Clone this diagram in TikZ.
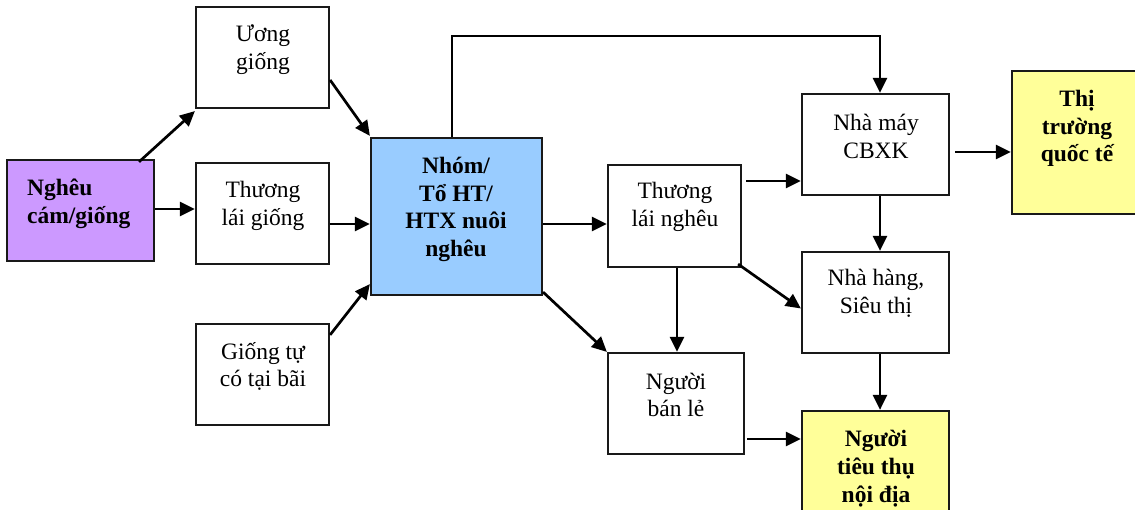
\documentclass[tikz,border=0pt]{standalone}
\usepackage{fontspec}
\setmainfont{Liberation Serif}
\usetikzlibrary{arrows.meta}
\definecolor{purp}{HTML}{CC99FF}
\definecolor{lblue}{HTML}{99CCFF}
\definecolor{lyel}{HTML}{FFFF99}
\begin{document}
\begin{tikzpicture}[x=1pt,y=-1pt,
  box/.style={draw=black!90, line width=2.2pt, inner sep=0pt, fill=white},
  txt/.style={align=center, inner sep=0pt, font=\fontsize{23.5}{27.8}\selectfont},
  btxt/.style={txt, font=\fontsize{23.5}{27.8}\selectfont\bfseries},
  arr/.style={line width=2.7pt, -{Triangle[length=15pt,width=14pt]}},
  ln/.style={line width=2.7pt}]
\useasboundingbox (0,0) rectangle (1135,510);
% boxes
\node[box, fill=purp, minimum width=147pt, minimum height=101pt] (nghe) at (80.5,210.5) {};
\node[box, minimum width=133pt, minimum height=101pt] (uong) at (262.5,57.5) {};
\node[box, minimum width=133pt, minimum height=101pt] (tlg) at (262.5,213.5) {};
\node[box, minimum width=133pt, minimum height=101pt] (gtc) at (262.5,374.5) {};
\node[box, fill=lblue, minimum width=171pt, minimum height=157pt] (nhom) at (456.5,216.5) {};
\node[box, minimum width=133pt, minimum height=102pt] (tln) at (674.5,216) {};
\node[box, minimum width=147pt, minimum height=101pt] (nmay) at (875.5,144.5) {};
\node[box, fill=lyel, minimum width=130pt, minimum height=143pt] (ttqt) at (1077,142.5) {};
\node[box, minimum width=147pt, minimum height=101pt] (nhh) at (875.5,302.5) {};
\node[box, minimum width=136pt, minimum height=101pt] (nbl) at (676,403.5) {};
\node[box, fill=lyel, minimum width=147pt, minimum height=110pt] (ntt) at (875.5,466) {};
% texts
\node[btxt, align=left, anchor=west] (nghe-t) at (27,204) {Nghêu\\cám/giống};
\node[txt] (uong-t) at (263,49.5) {Ương\\giống};
\node[txt] (tlg-t) at (263,206) {Thương\\lái giống};
\node[txt] (gtc-t) at (263,366.5) {Giống tự\\có tại bãi};
\node[btxt] (nhom-t) at (456,209.5) {Nhóm/\\Tổ HT/\\HTX nuôi\\nghêu};
\node[txt] (tln-t) at (675,206.5) {Thương\\lái nghêu};
\node[txt] (nmay-t) at (876,136.5) {Nhà máy\\CBXK};
\node[btxt] (ttqt-t) at (1077,128.5) {Thị\\trường\\quốc tế};
\node[txt] (nhh-t) at (876,293.5) {Nhà hàng,\\Siêu thị};
\node[txt] (nbl-t) at (676,395) {Người\\bán lẻ};
\node[btxt] (ntt-t) at (876,468.5) {Người\\tiêu thụ\\nội địa};
% connectors
\draw[arr] ([xshift=58.5pt,yshift=-3pt]nghe.north) -- ([yshift=-2pt]uong.south west);
\draw[arr] ([yshift=1.5pt]nghe.east) -- ([yshift=1.5pt]nghe.east -| tlg.west);
\draw[arr] ([yshift=-22.5pt]uong.east) -- ([yshift=1pt]nhom.north west);
\draw[arr] ([yshift=-10.5pt]tlg.east) -- ([yshift=-10.5pt]tlg.east -| nhom.west);
\draw[arr] ([yshift=-12pt]gtc.north east) -- ([yshift=12pt]nhom.south west);
\draw[arr] ([yshift=-7.5pt]nhom.east) -- ([yshift=-7.5pt]nhom.east -| tln.west);
\coordinate (topc) at (880,36);
\draw[arr] ([xshift=-4.5pt]nhom.north) |- (topc) -- (topc |- nmay.north);
\draw[arr] ([xshift=4pt,yshift=35pt]tln.east) -- ([yshift=35pt]tln.east -| nmay.west);
\draw[arr] ([xshift=5pt,yshift=-7.5pt]nmay.east) -- ([yshift=-7.5pt]nmay.east -| ttqt.west);
\draw[arr] ([xshift=4.5pt]nmay.south) -- ([xshift=4.5pt]nhh.north);
\draw[arr] ([xshift=-4pt,yshift=4pt]tln.south east) -- ([yshift=-6pt]nhh.west);
\draw[arr] ([xshift=2.5pt]tln.south) -- ([xshift=2.5pt]tln.south |- nbl.north);
\draw[arr] ([yshift=4pt]nhom.south east) -- (nbl.north west);
\draw[arr] ([xshift=4.5pt]nhh.south) -- ([xshift=4.5pt]nhh.south |- ntt.north);
\draw[arr] ([xshift=2pt,yshift=-35.5pt]nbl.east) -- ([yshift=-35.5pt]nbl.east -| ntt.west);
\end{tikzpicture}
\end{document}
